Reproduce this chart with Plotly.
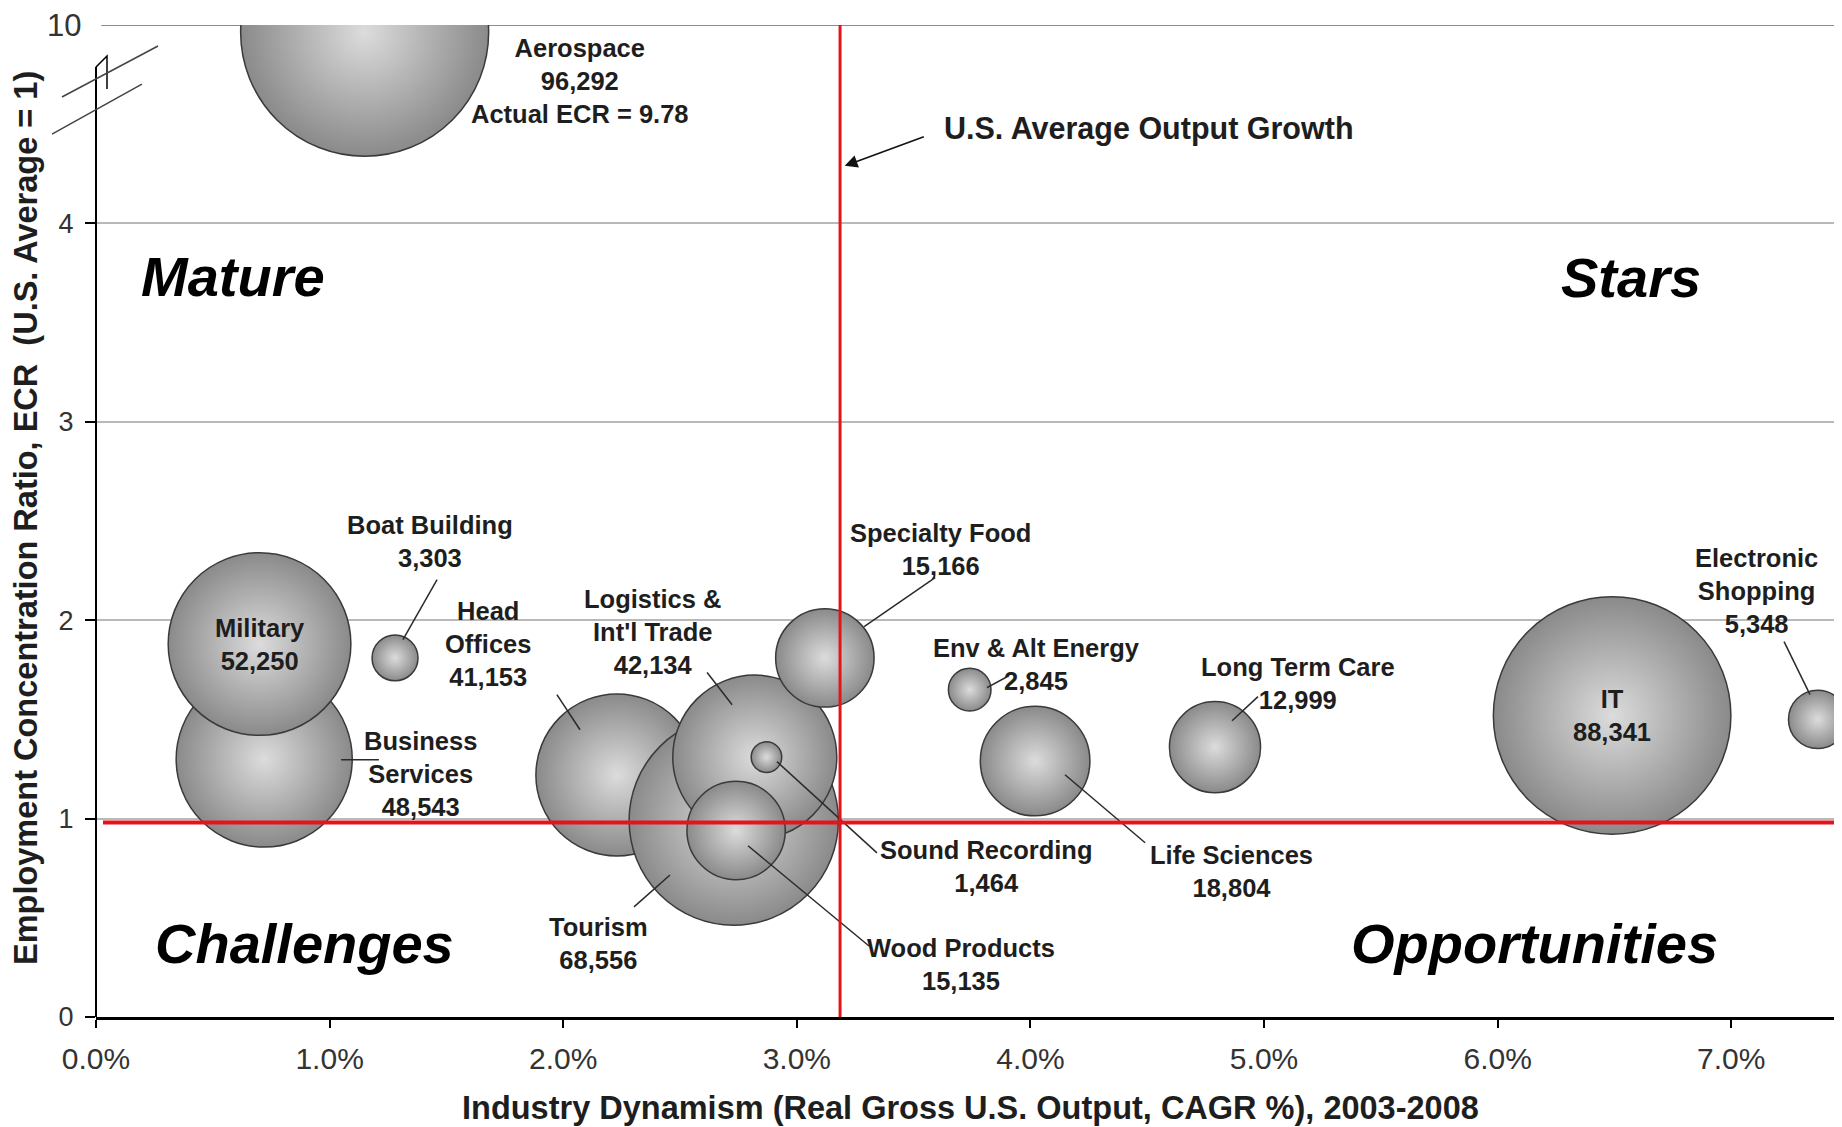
import plotly.graph_objects as go

# ---------------- data ----------------
INDUSTRIES = ["Head Offices", "Business Services", "Military", "Boat Building", "Aerospace",
              "Tourism", "Logistics & Int'l Trade", "Specialty Food", "Wood Products",
              "Sound Recording", "Env & Alt Energy", "Life Sciences", "Long Term Care",
              "IT", "Electronic Shopping"]
OUTPUT_GROWTH = [2.23, 0.72, 0.70, 1.28, 1.15, 2.73, 2.82, 3.12, 2.74, 2.87, 3.74, 4.02, 4.79, 6.49, 7.37]
ECR = [1.22, 1.30, 1.88, 1.81, 9.78, 0.99, 1.31, 1.81, 0.94, 1.31, 1.65, 1.29, 1.36, 1.52, 1.50]
EMPLOYMENT = [41153, 48543, 52250, 3303, 96292, 68556, 42134, 15166, 15135, 1464, 2845, 18804, 12999, 88341, 5348]

LABEL_NAMES = ["Head<br>Offices", "Business<br>Services", "Military", "Boat Building",
               "Aerospace", "Tourism", "Logistics &<br>Int'l Trade", "Specialty Food",
               "Wood Products", "Sound Recording", "Env & Alt Energy", "Life Sciences",
               "Long Term Care", "IT", "Electronic<br>Shopping"]
LABEL_EXTRA = {"Aerospace": "Actual ECR = 9.78"}

X_TICKS = [0, 1, 2, 3, 4, 5, 6, 7]
Y_TICKS = [0, 1, 2, 3, 4, 10]
US_AVG_OUTPUT_GROWTH = 3.185
US_AVG_ECR = 0.98
QUADRANTS = ["Mature", "Stars", "Challenges", "Opportunities"]

# ---------------- layout helpers (positions / styles) ----------------
BREAK_AT = 4.0
BREAK_SPAN = 6.0


def ypos(v):
    """broken axis: values above 4 are compressed (4..10 -> 4..5)"""
    return v if v <= BREAK_AT else BREAK_AT + (v - BREAK_AT) / BREAK_SPAN


# label centre positions (x %, axis position)
LABEL_POS = {
    "Head Offices": (1.678, 1.882),
    "Business Services": (1.391, 1.226),
    "Military": (0.70, 1.88),
    "Boat Building": (1.430, 2.399),
    "Aerospace": (2.072, 4.717),
    "Tourism": (2.153, 0.368),
    "Logistics & Int'l Trade": (2.384, 1.943),
    "Specialty Food": (3.613, 2.356),
    "Wood Products": (3.703, 0.267),
    "Sound Recording": (3.814, 0.757),
    "Env & Alt Energy": (4.024, 1.779),
    "Life Sciences": (4.859, 0.732),
    "Long Term Care": (5.146, 1.680),
    "IT": (6.49, 1.52),
    "Electronic Shopping": (7.110, 2.149),
}
LEADERS = [
    (1.460, 2.205, 1.314, 1.902),
    (1.049, 1.297, 1.211, 1.297),
    (1.973, 1.625, 2.072, 1.448),
    (2.616, 1.736, 2.723, 1.574),
    (3.592, 2.215, 3.288, 1.968),
    (3.900, 1.715, 3.814, 1.660),
    (2.915, 1.287, 3.343, 0.827),
    (2.791, 0.863, 3.309, 0.358),
    (4.148, 1.221, 4.491, 0.878),
    (4.863, 1.493, 4.974, 1.615),
    (7.226, 1.892, 7.337, 1.625),
    (2.303, 0.555, 2.457, 0.716),
]
QUAD_POS = [(0.586, 3.733), (6.569, 3.727), (0.892, 0.373), (6.157, 0.373)]

FONT = "Arial, 'Liberation Sans', sans-serif"
TXT = "#1e1e1e"
RED = "#e5141b"

X_MAX = 7.474
Y_MAX = 5.0
MAX_DIAM = 248

fig = go.Figure()

fig.add_trace(go.Scatter(
    x=OUTPUT_GROWTH,
    y=[ypos(v) for v in ECR],
    mode="markers",
    marker=dict(
        size=EMPLOYMENT,
        sizemode="area",
        sizeref=2.0 * max(EMPLOYMENT) / (MAX_DIAM ** 2),
        color="#8a8a8a",
        gradient=dict(type="radial", color="#dcdcdc"),
        line=dict(color="#3a3a3a", width=1.5),
        opacity=1,
    ),
    cliponaxis=True,
    hovertext=INDUSTRIES,
    showlegend=False,
))

annotations = []
for name, lab, emp in zip(INDUSTRIES, LABEL_NAMES, EMPLOYMENT):
    text = f"{lab}<br>{emp:,}"
    if name in LABEL_EXTRA:
        text += "<br>" + LABEL_EXTRA[name]
    lx, ly = LABEL_POS[name]
    annotations.append(dict(
        x=lx, y=ly, xref="x", yref="y", text=text, showarrow=False,
        xanchor="center", yanchor="middle", align="center",
        font=dict(family=FONT, size=25.5, color=TXT, weight="bold"),
    ))

for q, (qx, qy) in zip(QUADRANTS, QUAD_POS):
    annotations.append(dict(
        x=qx, y=qy, xref="x", yref="y", text=f"<i>{q}</i>", showarrow=False,
        xanchor="center", yanchor="middle",
        font=dict(family=FONT, size=56, color="#000000", weight="bold"),
    ))

# U.S. Average Output Growth callout
annotations.append(dict(
    x=3.622, y=4.48, xref="x", yref="y", text="U.S. Average Output Growth",
    showarrow=False, xanchor="left", yanchor="middle",
    font=dict(family=FONT, size=30.5, color=TXT, weight="bold"),
))
annotations.append(dict(
    x=US_AVG_OUTPUT_GROWTH + 0.02, y=4.29, xref="x", yref="y",
    ax=3.55, ay=4.44, axref="x", ayref="y", text="", showarrow=True,
    arrowhead=2, arrowsize=1.6, arrowwidth=1.6, arrowcolor="#111111",
))

# top tick label "10"
annotations.append(dict(
    x=-0.0074, y=ypos(Y_TICKS[-1]), xref="paper", yref="y", text=str(Y_TICKS[-1]),
    showarrow=False, xanchor="right", yanchor="middle",
    font=dict(family=FONT, size=31, color="#333333"),
))

# axis titles
annotations.append(dict(
    x=0.5006, y=-0.0917, xref="paper", yref="paper",
    text="Industry Dynamism (Real Gross U.S. Output, CAGR %), 2003-2008",
    showarrow=False, xanchor="center", yanchor="middle",
    font=dict(family=FONT, size=32.5, color=TXT, weight="bold"),
))
annotations.append(dict(
    x=-0.0401, y=0.503, xref="paper", yref="paper", textangle=-90,
    text="Employment Concentration Ratio, ECR  (U.S. Average = 1)",
    showarrow=False, xanchor="center", yanchor="middle",
    font=dict(family=FONT, size=32.5, color=TXT, weight="bold"),
))

shapes = []
# top border line at the break value (10)
shapes.append(dict(type="line", xref="paper", yref="y", x0=0.003, x1=1, y0=Y_MAX, y1=Y_MAX,
                   line=dict(color="#8c8c8c", width=2), layer="below"))
# leader lines
for x0, y0, x1, y1 in LEADERS:
    shapes.append(dict(type="line", xref="x", yref="y", x0=x0, y0=y0, x1=x1, y1=y1,
                       line=dict(color="#2a2a2a", width=1.5), layer="above"))
# reference lines
shapes.append(dict(type="line", xref="x", yref="y", x0=0.03, x1=X_MAX,
                   y0=US_AVG_ECR, y1=US_AVG_ECR, line=dict(color=RED, width=4), layer="above"))
shapes.append(dict(type="line", xref="x", yref="y", x0=US_AVG_OUTPUT_GROWTH, x1=US_AVG_OUTPUT_GROWTH,
                   y0=0, y1=Y_MAX, line=dict(color=RED, width=3), layer="above"))
# broken y axis line
shapes.append(dict(type="line", xref="paper", yref="y", x0=0, x1=0, y0=0, y1=4.788,
                   line=dict(color="#000000", width=2), layer="above"))
shapes.append(dict(type="path", xref="paper", yref="y",
                   path="M 0,4.788 L 0.0063,4.844 L 0.0063,4.677",
                   line=dict(color="#000000", width=1.5), layer="above"))
shapes.append(dict(type="line", xref="paper", yref="y", x0=-0.0195, y0=4.637, x1=0.0355, y1=4.894,
                   line=dict(color="#444444", width=1.5), layer="above"))
shapes.append(dict(type="line", xref="paper", yref="y", x0=-0.0252, y0=4.450, x1=0.0263, y1=4.702,
                   line=dict(color="#444444", width=1.5), layer="above"))

# the page body has an 8px margin: shrink the figure so the plot lands where the reference has it
fig.update_layout(
    width=1834, height=1119, autosize=False,
    margin=dict(l=88, r=0, t=17, b=110, pad=0),
    paper_bgcolor="white", plot_bgcolor="white",
    font=dict(family=FONT, color="#333333"),
    annotations=annotations,
    shapes=shapes,
    showlegend=False,
)
fig.update_xaxes(
    range=[0, X_MAX], tickvals=X_TICKS, ticktext=[f"{v:.1f}%" for v in X_TICKS],
    showgrid=False, zeroline=False, showline=True, linecolor="#000000", linewidth=3,
    ticks="outside", ticklen=8, tickwidth=2, tickcolor="#000000",
    tickfont=dict(family=FONT, size=30, color="#333333"), ticklabelstandoff=5,
)
fig.update_yaxes(
    range=[0, Y_MAX], tickvals=[ypos(v) for v in Y_TICKS[:-1]], ticktext=[str(v) for v in Y_TICKS[:-1]],
    showgrid=True, gridcolor="#b9b9b9", gridwidth=1.5, zeroline=False, showline=False,
    ticks="outside", ticklen=10, tickwidth=1.5, tickcolor="#000000",
    tickfont=dict(family=FONT, size=27, color="#333333"), ticklabelstandoff=6,
)

fig.write_html("out.html")
